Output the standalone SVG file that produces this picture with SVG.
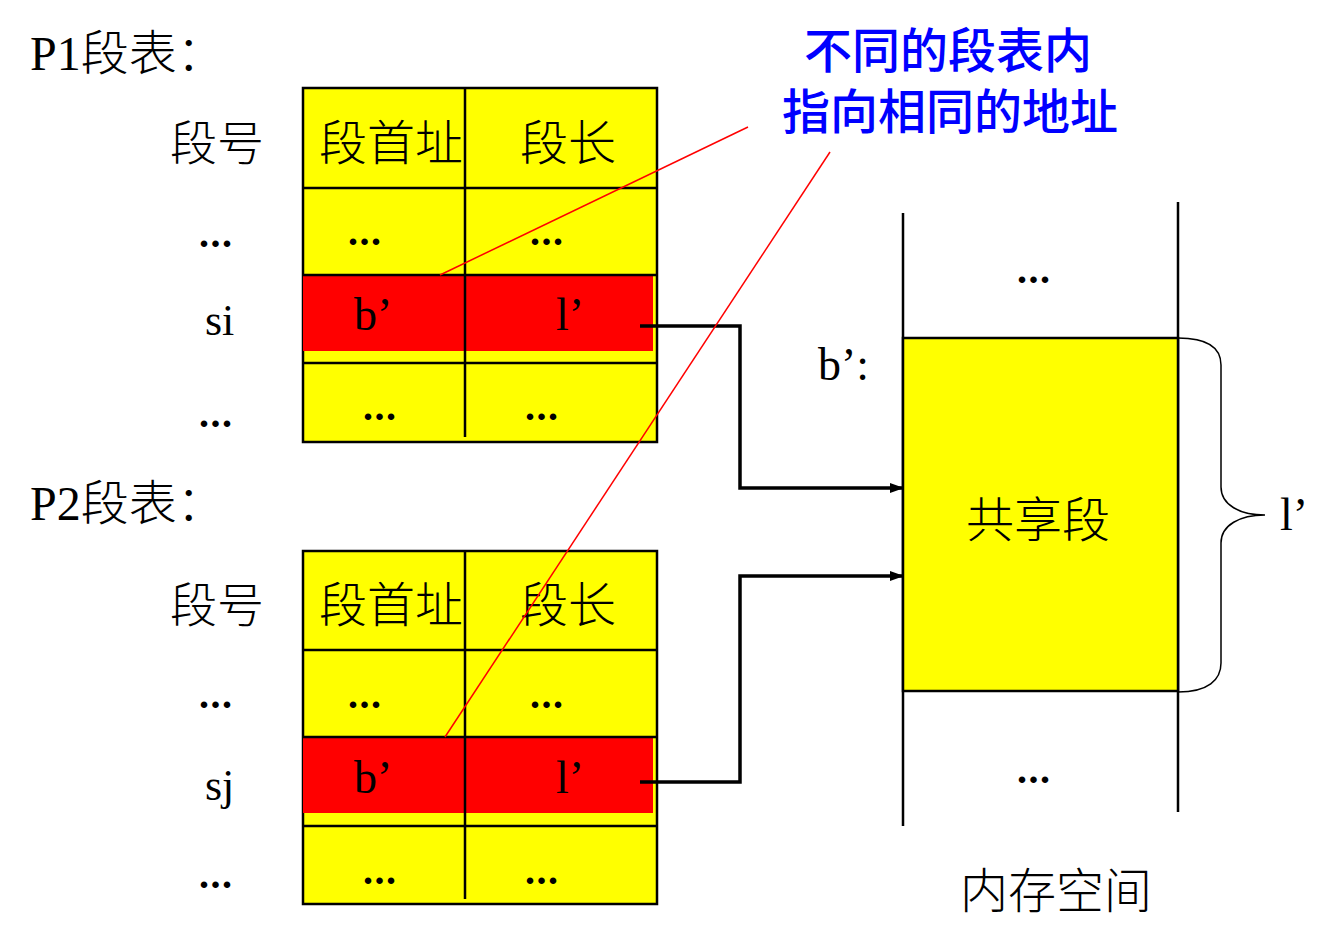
<svg xmlns="http://www.w3.org/2000/svg" width="1338" height="945" viewBox="0 0 1338 945">
<style>
.t{font-family:"Liberation Serif","Noto Sans CJK SC",serif;fill:#000}
.d{font-family:"Liberation Serif",serif;fill:#000;font-size:40px;font-weight:bold;letter-spacing:1.5px}
.c{font-family:"Liberation Serif","Noto Sans CJK SC",serif;fill:#000;font-weight:300}
.b{font-family:"Noto Sans CJK SC",sans-serif;fill:#0000ff;font-size:48px;font-weight:500}
.ln{stroke:#000;stroke-width:2.5;fill:none}
.cell{fill:#ffff00;stroke:#000;stroke-width:2.5}
.red{fill:#ff0000}
.conn{stroke:#000;stroke-width:3.5;fill:none}
.rl{stroke:#ff0000;stroke-width:1.5;fill:none}
</style>
<defs>
<marker id="ah" markerWidth="14" markerHeight="12" refX="13" refY="6" orient="auto" markerUnits="userSpaceOnUse">
<path d="M0,1 L14,6 L0,11 Z" fill="#000"/>
</marker>
</defs>

<g id="p1-labels">
<text class="c" x="30" y="70" font-size="48">P1段表：</text>
<text class="c" x="170" y="160" font-size="47">段号</text>
<text class="d" x="199" y="247">...</text>
<text class="t" x="205" y="335" font-size="44">si</text>
<text class="d" x="199" y="427">...</text>
</g>

<g id="p1-table">
<rect class="cell" x="303" y="88" width="354" height="354"/>
<rect class="red" x="303" y="275" width="350" height="76"/>
<line class="ln" x1="303" y1="188" x2="657" y2="188"/>
<line class="ln" x1="303" y1="275" x2="657" y2="275"/>
<line class="ln" x1="303" y1="363" x2="657" y2="363"/>
<line class="ln" x1="465" y1="88" x2="465" y2="437"/>
<text class="c" x="319" y="160" font-size="48">段首址</text>
<text class="c" x="520" y="160" font-size="48">段长</text>
<text class="d" x="348" y="245">...</text>
<text class="d" x="530" y="245">...</text>
<text class="t" x="354" y="330" font-size="46">b’</text>
<text class="t" x="556" y="330" font-size="46">l’</text>
<text class="d" x="363" y="420">...</text>
<text class="d" x="525" y="420">...</text>
</g>

<g id="p2-labels">
<text class="c" x="30" y="520" font-size="48">P2段表：</text>
<text class="c" x="170" y="622" font-size="47">段号</text>
<text class="d" x="199" y="708">...</text>
<text class="t" x="205" y="800" font-size="44">sj</text>
<text class="d" x="199" y="888">...</text>
</g>

<g id="p2-table">
<rect class="cell" x="303" y="551" width="354" height="353"/>
<rect class="red" x="303" y="737" width="350" height="76"/>
<line class="ln" x1="303" y1="650" x2="657" y2="650"/>
<line class="ln" x1="303" y1="737" x2="657" y2="737"/>
<line class="ln" x1="303" y1="826" x2="657" y2="826"/>
<line class="ln" x1="465" y1="551" x2="465" y2="899"/>
<text class="c" x="319" y="622" font-size="48">段首址</text>
<text class="c" x="520" y="622" font-size="48">段长</text>
<text class="d" x="348" y="708">...</text>
<text class="d" x="530" y="708">...</text>
<text class="t" x="354" y="793" font-size="46">b’</text>
<text class="t" x="556" y="793" font-size="46">l’</text>
<text class="d" x="363" y="884">...</text>
<text class="d" x="525" y="884">...</text>
</g>

<g id="memory">
<line class="ln" x1="903" y1="213" x2="903" y2="826"/>
<line class="ln" x1="1178" y1="202" x2="1178" y2="812"/>
<rect class="cell" x="903" y="338" width="275" height="353"/>
<text class="d" x="1017" y="283">...</text>
<text class="t" x="818" y="380" font-size="46">b’:</text>
<text class="c" x="966" y="537" font-size="48">共享段</text>
<text class="d" x="1017" y="783">...</text>
<text class="c" x="960" y="908" font-size="48">内存空间</text>
<path d="M1178,338 C1208,338 1221,348 1221,365 L1221,487 C1221,505 1240,515 1265,515 C1240,515 1221,525 1221,543 L1221,663 C1221,680 1208,692 1178,692" stroke="#000" stroke-width="1.5" fill="none"/>
<text class="t" x="1280" y="530" font-size="46">l’</text>
</g>

<g id="note">
<text class="b" text-anchor="middle"><tspan x="948" y="68">不同的段表内</tspan><tspan x="950" y="129">指向相同的地址</tspan></text>
</g>

<g id="connectors">
<polyline class="conn" points="640,326 740,326 740,488 903,488" marker-end="url(#ah)"/>
<polyline class="conn" points="640,782 740,782 740,576 903,576" marker-end="url(#ah)"/>
<line class="rl" x1="440" y1="275" x2="748" y2="127"/>
<line class="rl" x1="445" y1="737" x2="830" y2="152"/>
</g>
</svg>
